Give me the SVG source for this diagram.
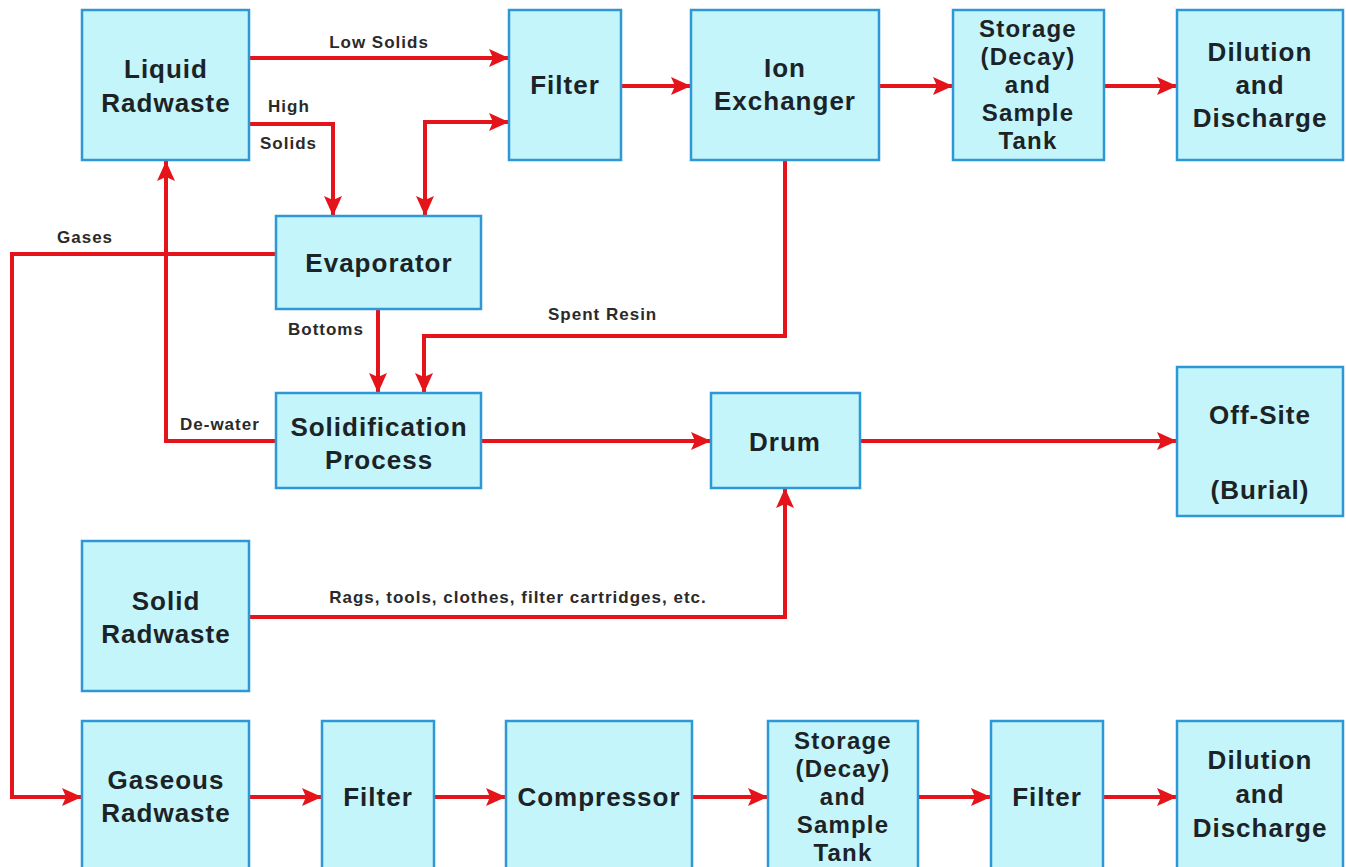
<svg xmlns="http://www.w3.org/2000/svg" width="1346" height="867" viewBox="0 0 1346 867">
<defs>
<style>
.box{fill:#c4f5fb;stroke:#2e97d6;stroke-width:2.5}
.lbl{font-family:"Liberation Sans",Arial,sans-serif;font-weight:bold;font-size:26px;letter-spacing:1px;fill:#1c2326;text-anchor:middle}
.st{font-size:24px;letter-spacing:1.2px}
.sm{font-family:"Liberation Sans",Arial,sans-serif;font-weight:bold;font-size:17px;letter-spacing:1px;fill:#2a2a2a}
.cn{fill:none;stroke:#e5141b;stroke-width:4;stroke-linejoin:miter}
</style>
<marker id="ah" viewBox="0 0 20 18" refX="20" refY="9" markerWidth="20" markerHeight="18" markerUnits="userSpaceOnUse" orient="auto-start-reverse">
<path d="M0,0 L20,9 L0,18 L4,9 Z" fill="#e5141b"/>
</marker>
</defs>
<rect width="1346" height="867" fill="#ffffff"/>
<g id="connectors">
<path class="cn" d="M250,58 H509" marker-end="url(#ah)"/>
<path class="cn" d="M250,124 H333 V216" marker-end="url(#ah)"/>
<path class="cn" d="M425,216 V122 H509" marker-start="url(#ah)" marker-end="url(#ah)"/>
<path class="cn" d="M276,254 H12 V797 H82" marker-end="url(#ah)"/>
<path class="cn" d="M276,441 H166 V161" marker-end="url(#ah)"/>
<path class="cn" d="M378,309 V393" marker-end="url(#ah)"/>
<path class="cn" d="M785,160 V336 H424 V393" marker-end="url(#ah)"/>
<path class="cn" d="M481,441 H711" marker-end="url(#ah)"/>
<path class="cn" d="M860,441 H1177" marker-end="url(#ah)"/>
<path class="cn" d="M249,617 H785 V488" marker-end="url(#ah)"/>
<path class="cn" d="M621,86 H691" marker-end="url(#ah)"/>
<path class="cn" d="M879,86 H953" marker-end="url(#ah)"/>
<path class="cn" d="M1104,86 H1177" marker-end="url(#ah)"/>
<path class="cn" d="M249,797 H322" marker-end="url(#ah)"/>
<path class="cn" d="M434,797 H506" marker-end="url(#ah)"/>
<path class="cn" d="M692,797 H768" marker-end="url(#ah)"/>
<path class="cn" d="M918,797 H991" marker-end="url(#ah)"/>
<path class="cn" d="M1103,797 H1177" marker-end="url(#ah)"/>
<text class="sm" x="379" y="48" text-anchor="middle">Low Solids</text>
<text class="sm" x="268" y="112">High</text>
<text class="sm" x="260" y="149">Solids</text>
<text class="sm" x="57" y="243">Gases</text>
<text class="sm" x="288" y="335">Bottoms</text>
<text class="sm" x="548" y="320">Spent Resin</text>
<text class="sm" x="180" y="430">De-water</text>
<text class="sm" x="518" y="603" text-anchor="middle">Rags, tools, clothes, filter cartridges, etc.</text>
</g>
<g id="liquid-radwaste"><rect class="box" x="82" y="10" width="167" height="150"/><text class="lbl" x="166" y="78">Liquid</text><text class="lbl" x="166" y="112">Radwaste</text></g>
<g id="filter-top"><rect class="box" x="509" y="10" width="112" height="150"/><text class="lbl" x="565" y="94">Filter</text></g>
<g id="ion-exchanger"><rect class="box" x="691" y="10" width="188" height="150"/><text class="lbl" x="785" y="77">Ion</text><text class="lbl" x="785" y="110">Exchanger</text></g>
<g id="storage-top"><rect class="box" x="953" y="10" width="151" height="150"/><text class="lbl st" x="1028" y="37">Storage</text><text class="lbl st" x="1028" y="65">(Decay)</text><text class="lbl st" x="1028" y="93">and</text><text class="lbl st" x="1028" y="121">Sample</text><text class="lbl st" x="1028" y="149">Tank</text></g>
<g id="dilution-top"><rect class="box" x="1177" y="10" width="166" height="150"/><text class="lbl" x="1260" y="61">Dilution</text><text class="lbl" x="1260" y="94">and</text><text class="lbl" x="1260" y="127">Discharge</text></g>
<g id="evaporator"><rect class="box" x="276" y="216" width="205" height="93"/><text class="lbl" x="379" y="272">Evaporator</text></g>
<g id="solidification"><rect class="box" x="276" y="393" width="205" height="95"/><text class="lbl" x="379" y="436">Solidification</text><text class="lbl" x="379" y="469">Process</text></g>
<g id="drum"><rect class="box" x="711" y="393" width="149" height="95"/><text class="lbl" x="785" y="451">Drum</text></g>
<g id="off-site"><rect class="box" x="1177" y="367" width="166" height="149"/><text class="lbl" x="1260" y="424">Off-Site</text><text class="lbl" x="1260" y="499">(Burial)</text></g>
<g id="solid-radwaste"><rect class="box" x="82" y="541" width="167" height="150"/><text class="lbl" x="166" y="610">Solid</text><text class="lbl" x="166" y="643">Radwaste</text></g>
<g id="gaseous-radwaste"><rect class="box" x="82" y="721" width="167" height="150"/><text class="lbl" x="166" y="789">Gaseous</text><text class="lbl" x="166" y="822">Radwaste</text></g>
<g id="filter-bottom"><rect class="box" x="322" y="721" width="112" height="150"/><text class="lbl" x="378" y="806">Filter</text></g>
<g id="compressor"><rect class="box" x="506" y="721" width="186" height="150"/><text class="lbl" x="599" y="806">Compressor</text></g>
<g id="storage-bottom"><rect class="box" x="768" y="721" width="150" height="150"/><text class="lbl st" x="843" y="749">Storage</text><text class="lbl st" x="843" y="777">(Decay)</text><text class="lbl st" x="843" y="805">and</text><text class="lbl st" x="843" y="833">Sample</text><text class="lbl st" x="843" y="861">Tank</text></g>
<g id="filter-bottom-2"><rect class="box" x="991" y="721" width="112" height="150"/><text class="lbl" x="1047" y="806">Filter</text></g>
<g id="dilution-bottom"><rect class="box" x="1177" y="721" width="166" height="150"/><text class="lbl" x="1260" y="769">Dilution</text><text class="lbl" x="1260" y="803">and</text><text class="lbl" x="1260" y="837">Discharge</text></g>
</svg>
